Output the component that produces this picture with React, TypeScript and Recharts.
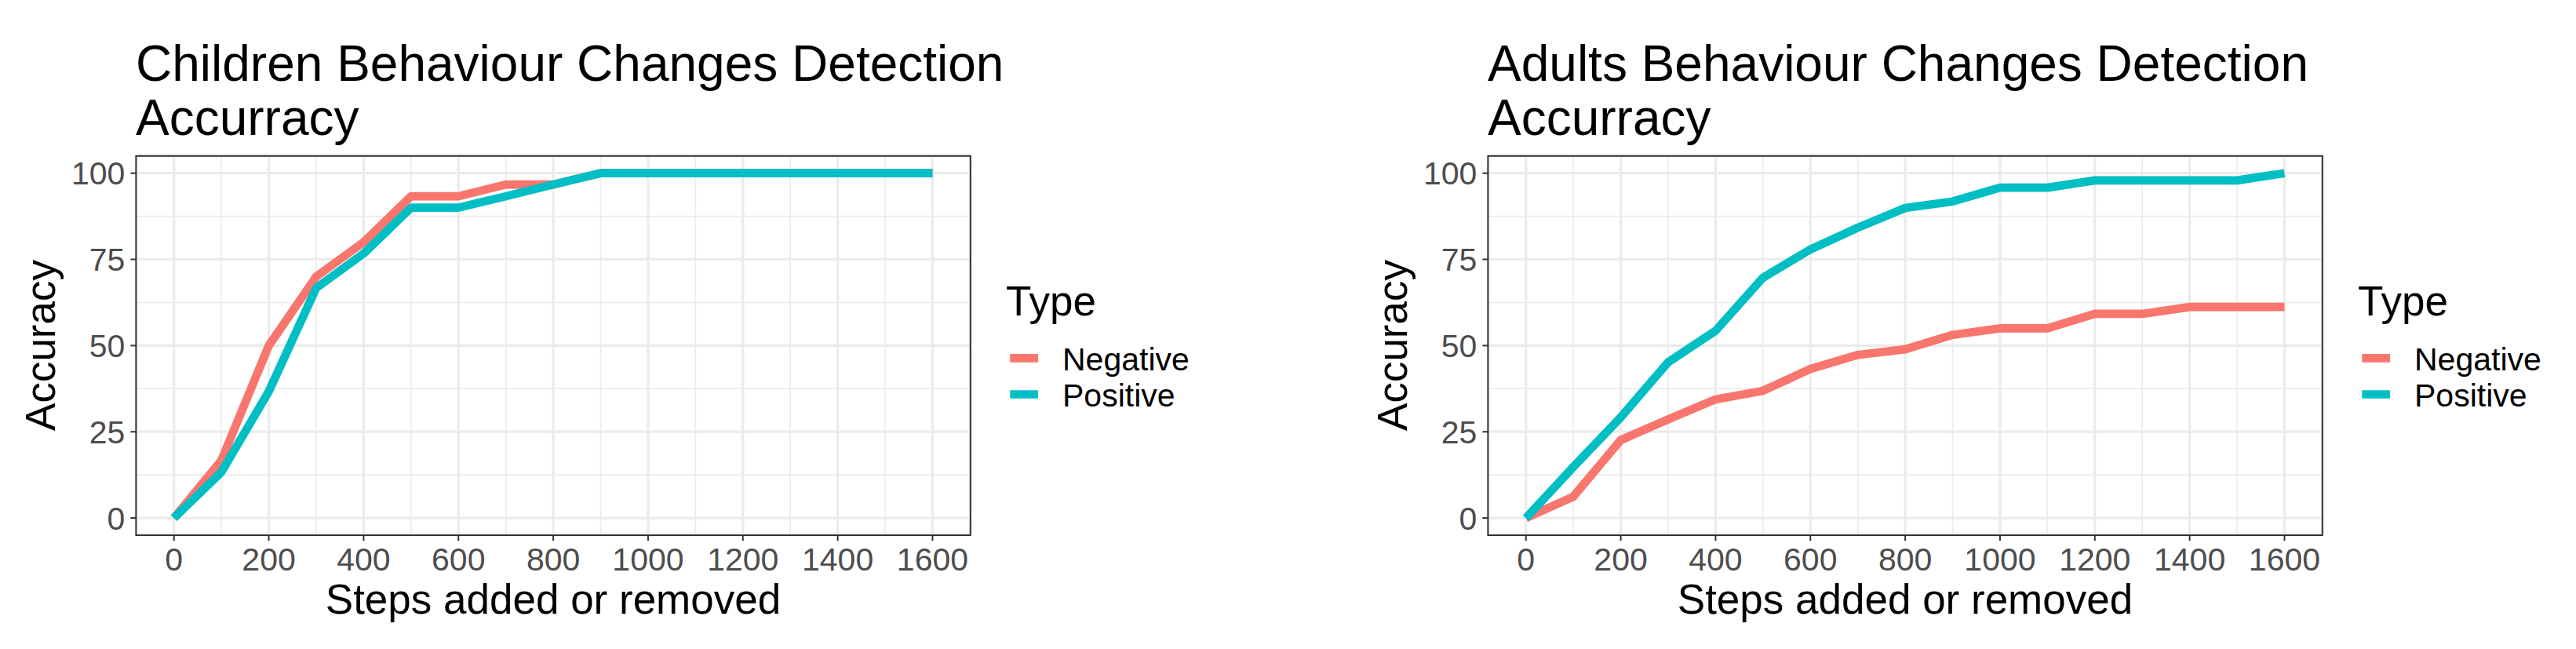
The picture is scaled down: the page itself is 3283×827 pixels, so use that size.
import { LineChart, Line, XAxis, YAxis, CartesianGrid, ReferenceArea } from "recharts";

const FONT = "'Liberation Sans', Arial, sans-serif";
const NEG = "#F8766D";
const POS = "#00BFC4";

const steps = [0, 100, 200, 300, 400, 500, 600, 700, 800, 900, 1000, 1100, 1200, 1300, 1400, 1500, 1600];

const childrenNegative = [0, 16.7, 50, 70, 80, 93.3, 93.3, 96.7, 96.7, 100, 100, 100, 100, 100, 100, 100, 100];
const childrenPositive = [0, 13.3, 36.7, 66.7, 76.7, 90, 90, 93.3, 96.7, 100, 100, 100, 100, 100, 100, 100, 100];

const adultsNegative = [0, 6.2, 22.6, 28.6, 34.4, 36.9, 43.2, 47.3, 48.9, 53.1, 55, 55, 59.2, 59.2, 61.2, 61.2, 61.2];
const adultsPositive = [0, 14.8, 29.2, 45.2, 54.3, 69.7, 77.9, 84.2, 89.9, 91.8, 95.8, 95.8, 97.9, 97.9, 97.9, 97.9, 100];

const xTicks = [0, 200, 400, 600, 800, 1000, 1200, 1400, 1600];
const yTicks = [0, 25, 50, 75, 100];
const xMinor = [100, 300, 500, 700, 900, 1100, 1300, 1500];
const yMinor = [12.5, 37.5, 62.5, 87.5];
const legendLabels = ["Negative", "Positive"];

const W = 1560;
const H = 827;
const Y_AXIS_W = 120;
const X_AXIS_H = 80;

function Panel({
  left,
  title,
  neg,
  pos,
}: {
  left: number;
  title: string[];
  neg: number[];
  pos: number[];
}) {
  const data = steps.map((x, i) => ({ x, neg: neg[i], pos: pos[i] }));

  return (
    <div style={{ position: "absolute", left, top: 0, width: W, height: H }}>
      <LineChart
        width={W}
        height={H}
        data={data}
        margin={{ top: 198.7, right: W - 1236.8, bottom: H - 682 - X_AXIS_H, left: 173.4 - Y_AXIS_W }}
      >
        <CartesianGrid
          stroke="#EBEBEB"
          strokeWidth={1.6}
          horizontalValues={yMinor}
          verticalValues={xMinor}
        />
        <CartesianGrid stroke="#EBEBEB" strokeWidth={3.2} />
        <XAxis
          dataKey="x"
          type="number"
          domain={[-80, 1680]}
          ticks={xTicks}
          interval={0}
          allowDataOverflow
          height={X_AXIS_H}
          axisLine={false}
          tickSize={7}
          tickMargin={9}
          tickLine={{ stroke: "#333333", strokeWidth: 2 }}
          tick={{ fill: "#4D4D4D", fontSize: 41, fontFamily: FONT }}
        />
        <YAxis
          type="number"
          domain={[-5, 105]}
          ticks={yTicks}
          interval={0}
          allowDataOverflow
          width={Y_AXIS_W}
          axisLine={false}
          tickSize={7}
          tickMargin={7}
          tickLine={{ stroke: "#333333", strokeWidth: 2 }}
          tick={{ fill: "#4D4D4D", fontSize: 41, fontFamily: FONT }}
        />
        <Line
          type="linear"
          dataKey="neg"
          stroke={NEG}
          strokeWidth={10.7}
          strokeLinejoin="round"
          dot={false}
          activeDot={false}
          isAnimationActive={false}
        />
        <Line
          type="linear"
          dataKey="pos"
          stroke={POS}
          strokeWidth={10.7}
          strokeLinejoin="round"
          dot={false}
          activeDot={false}
          isAnimationActive={false}
        />
        <ReferenceArea
          x1={-80}
          x2={1680}
          y1={-5}
          y2={105}
          fill="none"
          fillOpacity={0}
          stroke="#333333"
          strokeWidth={2}
          ifOverflow="visible"
        />
      </LineChart>

      {/* titles and legend */}
      <svg
        width={W}
        height={H}
        style={{ position: "absolute", left: 0, top: 0, pointerEvents: "none" }}
        fontFamily={FONT}
      >
        <text x={173} y={102.7} fontSize={64} fill="#000">{title[0]}</text>
        <text x={173} y={171.7} fontSize={64} fill="#000">{title[1]}</text>

        <text x={705} y={782.3} fontSize={53} textAnchor="middle" fill="#000">
          Steps added or removed
        </text>
        <text transform="translate(70, 440) rotate(-90)" fontSize={53} textAnchor="middle" fill="#000">
          Accuracy
        </text>

        <text x={1282} y={401.7} fontSize={53} fill="#000">Type</text>
        {legendLabels.map((lab, i) => (
          <g key={lab}>
            <line
              x1={1287.3}
              x2={1323}
              y1={456.3 + i * 46.2}
              y2={456.3 + i * 46.2}
              stroke={i === 0 ? NEG : POS}
              strokeWidth={10.7}
            />
            <text x={1354} y={472.3 + i * 46} fontSize={41} fill="#000">{lab}</text>
          </g>
        ))}
      </svg>
    </div>
  );
}

export default function App() {
  return (
    <div
      style={{
        position: "absolute",
        left: 0,
        top: 0,
        width: 3283,
        height: 827,
        background: "#fff",
        overflow: "hidden",
        fontFamily: FONT,
      }}
    >
      <Panel
        left={0}
        title={["Children Behaviour Changes Detection", "Accurracy"]}
        neg={childrenNegative}
        pos={childrenPositive}
      />
      <Panel
        left={1722.5}
        title={["Adults Behaviour Changes Detection", "Accurracy"]}
        neg={adultsNegative}
        pos={adultsPositive}
      />
    </div>
  );
}
